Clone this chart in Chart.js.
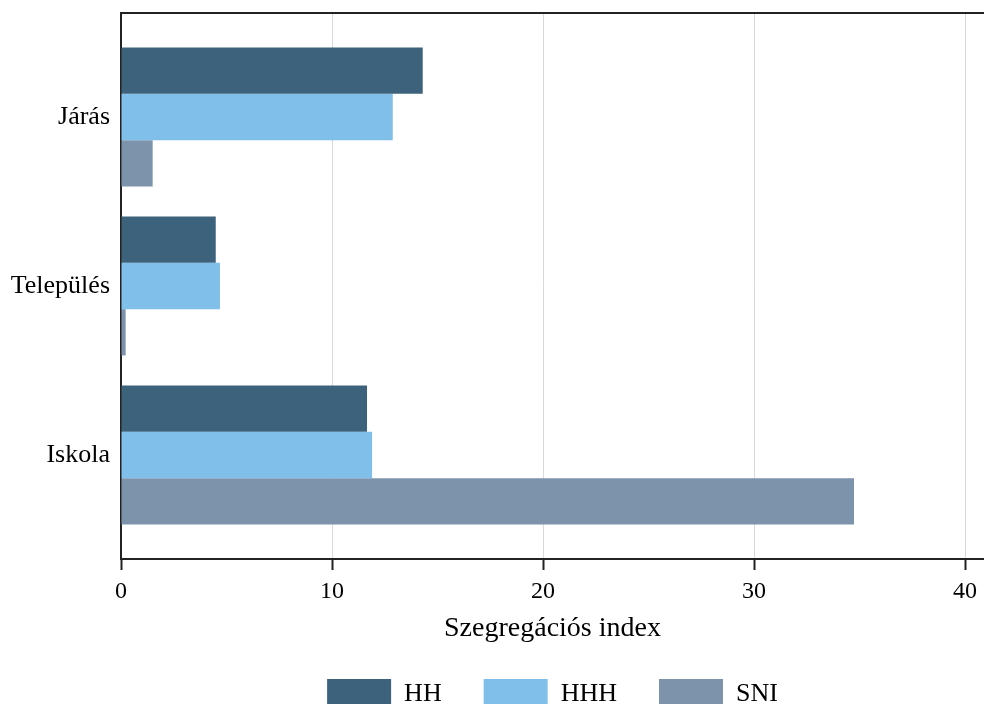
<!DOCTYPE html>
<html><head><meta charset="utf-8">
<script src="https://cdn.jsdelivr.net/npm/chart.js@4/dist/chart.umd.min.js"></script>
<style>html,body{margin:0;padding:0;background:#fff;overflow:hidden;} #wrap{width:984px;height:719px;}</style>
</head><body><div id="wrap"><canvas id="c" width="984" height="719"></canvas></div>
<script>
const categories = ['Járás', 'Település', 'Iskola'];
const seriesNames = ['HH', 'HHH', 'SNI'];
const hhValues = [14.3, 4.49, 11.66];
const hhhValues = [12.88, 4.69, 11.9];
const sniValues = [1.5, 0.22, 34.74];
const xTicks = [0, 10, 20, 30, 40];
const xAxisTitle = 'Szegregációs index';
const colors = ['#3d627b', '#80bfe9', '#7c93ab'];

const FONT = "'Liberation Serif', 'Times New Roman', serif";
Chart.defaults.font.family = FONT;
Chart.defaults.color = '#000';

const topBorder = {
  id: 'topBorder',
  afterDatasetsDraw(chart) {
    const {ctx, chartArea: a} = chart;
    ctx.save();
    ctx.strokeStyle = '#222';
    ctx.lineWidth = 2;
    ctx.beginPath();
    ctx.moveTo(a.left - 1, a.top);
    ctx.lineTo(a.right, a.top);
    ctx.stroke();
    ctx.restore();
  }
};

const catPad = 0.1154;

new Chart(document.getElementById('c'), {
  type: 'bar',
  data: {
    labels: categories,
    datasets: [
      {label: seriesNames[0], data: hhValues, backgroundColor: colors[0]},
      {label: seriesNames[1], data: hhhValues, backgroundColor: colors[1]},
      {label: seriesNames[2], data: sniValues, backgroundColor: colors[2]}
    ]
  },
  options: {
    indexAxis: 'y',
    responsive: false,
    animation: false,
    datasets: {bar: {barPercentage: 1, categoryPercentage: 0.822, borderWidth: 0}},
    layout: {padding: {top: 13, left: 0, right: 0, bottom: 0}},
    plugins: {
      tooltip: {enabled: false},
      legend: {
        position: 'bottom',
        fullSize: false,
        labels: {boxWidth: 64, boxHeight: 30, padding: 42, font: {size: 26}, color: '#000'}
      }
    },
    scales: {
      x: {
        type: 'linear',
        min: 0,
        max: 40.9,
        afterBuildTicks(scale) { scale.ticks = xTicks.map(v => ({value: v})); },
        grid: {color: '#d9d9d9', lineWidth: 1, tickColor: '#222', tickLength: 11, tickWidth: 2},
        border: {display: true, color: '#222', width: 2},
        ticks: {font: {size: 24}, color: '#000', padding: 7, maxRotation: 0},
        title: {display: true, text: xAxisTitle, font: {size: 28}, color: '#000', padding: {top: -0.6, bottom: -8.8}}
      },
      y: {
        z: 1,
        offset: true,
        afterBuildTicks(scale) {
          scale._startValue = -0.5 - catPad;
          scale._valueRange = categories.length + 2 * catPad;
        },
        afterFit(scale) { scale.width = 121; scale.paddingTop = 0; scale.paddingBottom = 0; },
        grid: {display: false, drawTicks: false},
        border: {display: true, color: '#222', width: 2},
        ticks: {font: {size: 26}, color: '#000', padding: 11}
      }
    }
  },
  plugins: [topBorder]
});
</script>
</body></html>
